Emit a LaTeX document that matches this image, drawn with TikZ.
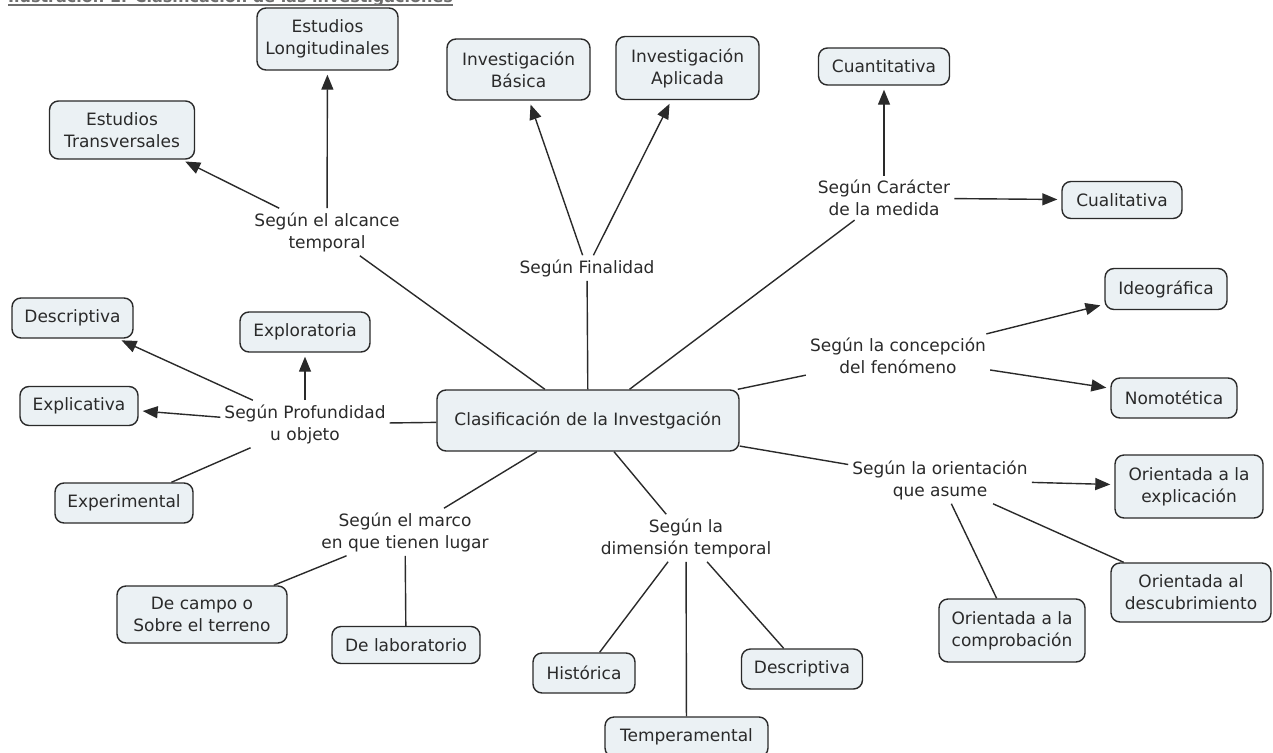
\documentclass[tikz,border=0pt]{standalone}
\usepackage{fontspec}
\setmainfont{DejaVu Sans}
\usetikzlibrary{arrows.meta}

\definecolor{ink}{HTML}{2A2A2A}
\definecolor{boxfill}{HTML}{EBF1F4}
\definecolor{captiongray}{HTML}{6E6E6E}

\tikzset{
  concept/.style={draw=ink, fill=boxfill, line width=1.4pt, rounded corners=9pt,
    text=ink, align=center, inner xsep=4pt, inner ysep=4pt,
    font=\fontsize{17}{22}\selectfont},
  hub/.style={concept},
  phrase/.style={text=ink, align=center, inner sep=4pt,
    font=\fontsize{17}{22}\selectfont},
  link/.style={draw=ink, line width=1.4pt},
  arrowlink/.style={link, -{Triangle[length=15pt,width=12pt]}, shorten >=4pt},
}

\begin{document}
\begin{tikzpicture}[x=1pt, y=-1pt]
  \useasboundingbox (0,0) rectangle (1273,752);
  \clip (0,0) rectangle (1273,752);

  % caption, cut by the top edge
  \node[anchor=base west, inner sep=0, text=captiongray,
        font=\fontsize{16}{18}\selectfont\bfseries] (caption) at (8,3)
        {Ilustración 1: Clasificación de las investigaciones};
  \draw[captiongray, line width=2pt]
        ([yshift=-2.5pt]caption.base west) -- ([yshift=-2.5pt]caption.base east);

  % central concept
  \node[hub, minimum width=302pt, minimum height=61pt] (hub) at (588,420.5)
        {Clasificación de la Investgación};

  % linking phrases
  \node[phrase] (lalc) at (327,232) {Según el alcance\\temporal};
  \node[phrase] (lfin) at (587,268) {Según Finalidad};
  \node[phrase] (lcar) at (884,198) {Según Carácter\\de la medida};
  \node[phrase] (lcon) at (898,356) {Según la concepción\\del fenómeno};
  \node[phrase] (lori) at (940,480) {Según la orientación\\que asume};
  \node[phrase] (lpro) at (305,424) {Según Profundidad\\u objeto};
  \node[phrase] (lmar) at (405,532) {Según el marco\\en que tienen lugar};
  \node[phrase] (ldim) at (686,538) {Según la\\dimensión temporal};

  % concepts
  \node[concept, minimum width=141pt, minimum height=62pt] (elong) at (327.5,39) {Estudios\\Longitudinales};
  \node[concept, minimum width=145pt, minimum height=58pt] (etrans) at (122,130) {Estudios\\Transversales};
  \node[concept, minimum width=143pt, minimum height=61pt] (ibas) at (518.5,69.5) {Investigación\\Básica};
  \node[concept, minimum width=143pt, minimum height=63pt] (iapl) at (687.5,68) {Investigación\\Aplicada};
  \node[concept, minimum width=131pt, minimum height=37pt] (cuant) at (884,66.5) {Cuantitativa};
  \node[concept, minimum width=120pt, minimum height=37pt] (cual) at (1122,200) {Cualitativa};
  \node[concept, minimum width=122pt, minimum height=41pt] (ideo) at (1166,289) {Ideográfica};
  \node[concept, minimum width=126pt, minimum height=40pt] (nomo) at (1174,398) {Nomotética};
  \node[concept, minimum width=121pt, minimum height=40pt] (desca) at (72.5,318) {Descriptiva};
  \node[concept, minimum width=130pt, minimum height=40pt] (explo) at (305,332) {Exploratoria};
  \node[concept, minimum width=118pt, minimum height=39pt] (expli) at (79,406) {Explicativa};
  \node[concept, minimum width=138pt, minimum height=40pt] (exper) at (124,503) {Experimental};
  \node[concept, minimum width=148pt, minimum height=63pt] (oexp) at (1189,486.5) {Orientada a la\\explicación};
  \node[concept, minimum width=160pt, minimum height=59pt] (odes) at (1191,592.5) {Orientada al\\descubrimiento};
  \node[concept, minimum width=146pt, minimum height=63pt] (ocom) at (1012,630.5) {Orientada a la\\comprobación};
  \node[concept, minimum width=170pt, minimum height=57pt] (campo) at (202,614.5) {De campo o\\Sobre el terreno};
  \node[concept, minimum width=148pt, minimum height=37pt] (lab) at (406,645) {De laboratorio};
  \node[concept, minimum width=102pt, minimum height=40pt] (hist) at (584,673) {Histórica};
  \node[concept, minimum width=121pt, minimum height=40pt] (descb) at (802,669) {Descriptiva};
  \node[concept, minimum width=163pt, minimum height=40pt] (temp) at (686.5,737) {Temperamental};

  % hub to linking phrases
  \foreach \p in {lalc,lfin,lcar,lcon,lori,lpro,lmar,ldim}
    \draw[link] (hub) -- (\p);

  % linking phrases to concepts, with arrowheads
  \draw[arrowlink] (lalc) -- (etrans);
  \draw[arrowlink] (lalc) -- (elong);
  \draw[arrowlink] (lfin) -- (ibas);
  \draw[arrowlink] (lfin) -- (iapl);
  \draw[arrowlink] (lcar) -- (cuant);
  \draw[arrowlink] (lcar) -- (cual);
  \draw[arrowlink] (lcon) -- (ideo);
  \draw[arrowlink] (lcon) -- (nomo);
  \draw[arrowlink] (lpro) -- (desca);
  \draw[arrowlink] (lpro) -- (explo);
  \draw[arrowlink] (lpro) -- (expli);
  \draw[arrowlink] (lori) -- (oexp);

  % linking phrases to concepts, plain lines
  \draw[link] (lpro) -- (exper);
  \draw[link] (lori) -- (ocom);
  \draw[link] (lori) -- (odes);
  \draw[link] (lmar) -- (campo);
  \draw[link] (lmar) -- (lab);
  \draw[link] (ldim) -- (hist);
  \draw[link] (ldim) -- (temp);
  \draw[link] (ldim) -- (descb);
\end{tikzpicture}
\end{document}
